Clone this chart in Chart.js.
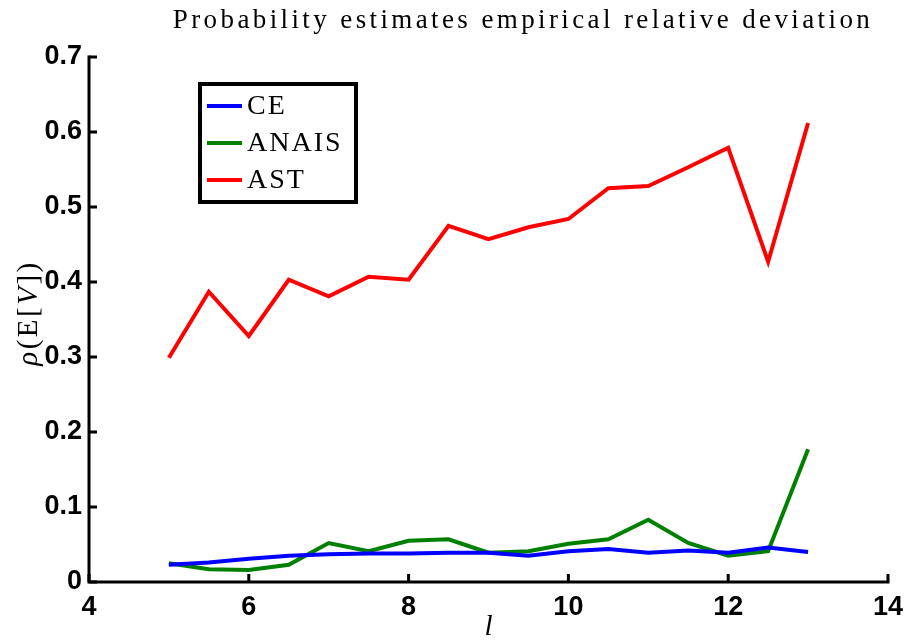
<!DOCTYPE html>
<html>
<head>
<meta charset="utf-8">
<script src="https://cdn.jsdelivr.net/npm/chart.js@4/dist/chart.umd.min.js"></script>
<style>
  html, body { margin: 0; padding: 0; background: #ffffff; }
  #wrap { width: 912px; height: 640px; }
</style>
</head>
<body>
<div id="wrap"><canvas id="chart" width="912" height="640"></canvas></div>
<script>
// Level l at which each estimate was computed
const levels = [5, 5.5, 6, 6.5, 7, 7.5, 8, 8.5, 9, 9.5, 10, 10.5, 11, 11.5, 12, 12.5, 13];

// Empirical relative deviation of each probability estimator
const ceValues    = [0.023, 0.026, 0.031, 0.035, 0.037, 0.038, 0.038, 0.039, 0.039, 0.035, 0.041, 0.044, 0.039, 0.042, 0.039, 0.046, 0.040];
const anaisValues = [0.025, 0.017, 0.016, 0.023, 0.052, 0.041, 0.055, 0.057, 0.039, 0.041, 0.051, 0.057, 0.083, 0.052, 0.035, 0.041, 0.177];
const astValues   = [0.299, 0.387, 0.328, 0.403, 0.381, 0.407, 0.403, 0.475, 0.457, 0.473, 0.484, 0.525, 0.528, 0.553, 0.579, 0.427, 0.612];

const seriesNames  = ['CE', 'ANAIS', 'AST'];
const seriesColors = ['#0000ff', '#008000', '#ff0000'];

// Axis ticks
const xTickValues = [4, 6, 8, 10, 12, 14];
const yTickValues = [0, 0.1, 0.2, 0.3, 0.4, 0.5, 0.6, 0.7];
const yTickLabels = ['0', '0.1', '0.2', '0.3', '0.4', '0.5', '0.6', '0.7'];

const titleText = 'Probability estimates empirical relative deviation';

const toPoints = vals => vals.map((v, i) => ({ x: levels[i], y: v }));
const seriesValues = [ceValues, anaisValues, astValues];

const datasets = seriesNames.map((name, i) => ({
  label: name,
  data: toPoints(seriesValues[i]),
  borderColor: seriesColors[i],
  backgroundColor: seriesColors[i],
  borderWidth: 4,
  borderJoinStyle: 'miter',
  pointRadius: 0,
  tension: 0,
  fill: false
}));

const tickFont = { family: 'Liberation Sans', size: 27, weight: 'bold' };

// Inward tick marks, title, axis titles and boxed legend
const decorations = {
  id: 'decorations',
  afterDraw(chart) {
    const ctx = chart.ctx;
    const xs = chart.scales.x, ys = chart.scales.y;
    const area = chart.chartArea;
    ctx.save();

    // axis lines
    ctx.strokeStyle = '#000';
    ctx.lineWidth = 3;
    ctx.lineCap = 'square';
    ctx.beginPath();
    ctx.moveTo(area.left, area.top);
    ctx.lineTo(area.left, area.bottom);
    ctx.lineTo(area.right, area.bottom);
    ctx.stroke();

    // inward ticks
    ctx.lineCap = 'butt';
    ctx.beginPath();
    xTickValues.forEach(v => {
      const px = xs.getPixelForValue(v);
      ctx.moveTo(px, area.bottom);
      ctx.lineTo(px, area.bottom - 8);
    });
    yTickValues.forEach(v => {
      const py = ys.getPixelForValue(v);
      ctx.moveTo(area.left, py);
      ctx.lineTo(area.left + 8, py);
    });
    ctx.stroke();

    // title
    ctx.fillStyle = '#000';
    ctx.font = '27px "Liberation Serif"';
    ctx.textAlign = 'center';
    ctx.textBaseline = 'middle';
    ctx.letterSpacing = '0px';
    const natural = ctx.measureText(titleText).width;
    const spacing = Math.max(0, (697 - natural) / (titleText.length - 1));
    ctx.letterSpacing = spacing.toFixed(2) + 'px';
    ctx.fillText(titleText, 523, 21);

    // x-axis title
    ctx.letterSpacing = '0px';
    ctx.font = 'italic 29px "Liberation Serif"';
    ctx.fillText('l', (area.left + area.right) / 2, 627);

    // y-axis title, rotated: ρ(E[V])
    ctx.save();
    ctx.translate(29, 313);
    ctx.rotate(-Math.PI / 2);
    ctx.letterSpacing = '2.5px';
    const parts = [
      ['ρ', 'italic 29px "Liberation Serif"'],
      ['(E[', '29px "Liberation Serif"'],
      ['V', 'italic 29px "Liberation Serif"'],
      ['])', '29px "Liberation Serif"']
    ];
    let total = 0;
    parts.forEach(p => { ctx.font = p[1]; total += ctx.measureText(p[0]).width; });
    let cx = -total / 2;
    ctx.textAlign = 'left';
    parts.forEach(p => {
      ctx.font = p[1];
      ctx.fillText(p[0], cx, 0);
      cx += ctx.measureText(p[0]).width;
    });
    ctx.restore();

    // legend box
    const box = { left: 200, top: 84, right: 356, bottom: 202 };
    ctx.fillStyle = '#fff';
    ctx.fillRect(box.left, box.top, box.right - box.left, box.bottom - box.top);
    ctx.strokeStyle = '#000';
    ctx.lineWidth = 4;
    ctx.lineCap = 'square';
    ctx.strokeRect(box.left, box.top, box.right - box.left, box.bottom - box.top);
    const rowY = [106, 143, 180];
    ctx.textAlign = 'left';
    ctx.textBaseline = 'middle';
    ctx.font = '28px "Liberation Serif"';
    ctx.letterSpacing = '2px';
    chart.data.datasets.forEach((ds, i) => {
      ctx.strokeStyle = ds.borderColor;
      ctx.lineWidth = 4;
      ctx.lineCap = 'butt';
      ctx.beginPath();
      ctx.moveTo(207, rowY[i]);
      ctx.lineTo(242, rowY[i]);
      ctx.stroke();
      ctx.fillStyle = '#000';
      ctx.fillText(ds.label, 247, rowY[i] + 1);
    });
    ctx.restore();
  }
};

new Chart(document.getElementById('chart'), {
  type: 'line',
  data: { datasets },
  options: {
    responsive: false,
    animation: false,
    devicePixelRatio: 1,
    layout: { padding: { left: 0, right: 21, top: 57, bottom: 0 } },
    plugins: {
      legend: { display: false },
      title: { display: false },
      tooltip: { enabled: false }
    },
    scales: {
      x: {
        type: 'linear',
        min: 4,
        max: 14,
        afterFit: s => { s.height = 58; },
        afterBuildTicks: s => { s.ticks = xTickValues.map(v => ({ value: v })); },
        grid: { display: false, drawTicks: false },
        border: { display: false },
        ticks: {
          font: tickFont,
          color: '#000',
          padding: 9,
          maxRotation: 0,
          autoSkip: false,
          callback: v => String(v)
        }
      },
      y: {
        type: 'linear',
        min: 0,
        max: 0.7,
        afterFit: s => { s.width = 89; },
        afterBuildTicks: s => { s.ticks = yTickValues.map(v => ({ value: v })); },
        grid: { display: false, drawTicks: false },
        border: { display: false },
        ticks: {
          font: tickFont,
          color: '#000',
          padding: 7,
          autoSkip: false,
          callback: v => {
            const i = yTickValues.findIndex(t => Math.abs(t - v) < 1e-9);
            return i >= 0 ? yTickLabels[i] : '';
          }
        }
      }
    }
  },
  plugins: [decorations]
});
</script>
</body>
</html>
